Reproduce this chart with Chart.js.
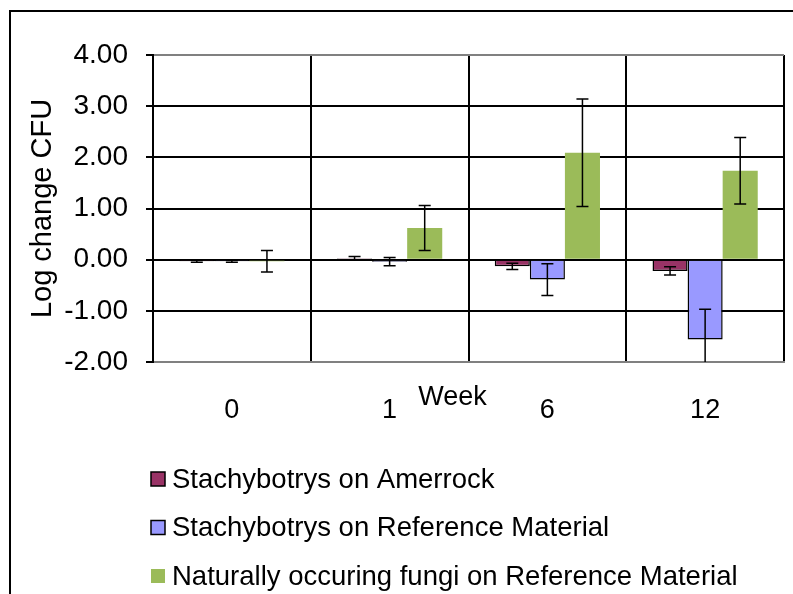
<!DOCTYPE html>
<html>
<head>
<meta charset="utf-8">
<script src="https://cdn.jsdelivr.net/npm/chart.js@4.4.1/dist/chart.umd.min.js"></script>
<style>
  body { margin: 0; background: #fff; }
  #wrap { position: relative; width: 793px; height: 594px; overflow: hidden; }
  #frame { position: absolute; left: 9px; top: 10px; width: 900px; height: 700px;
           border-left: 2px solid #000; border-top: 2px solid #000; }
  canvas { position: absolute; left: 0; top: 0; }
</style>
</head>
<body>
<div id="wrap">
  <div id="frame"></div>
  <canvas id="chart" width="793" height="594"></canvas>
</div>
<script>
const weeks = ["0", "1", "6", "12"];
const seriesNames = [
  "Stachybotrys on Amerrock",
  "Stachybotrys on Reference Material",
  "Naturally occuring fungi on Reference Material"
];
const amerrock = [-0.03, 0.03, -0.13, -0.22];
const amerrockErr = [0.02, 0.03, 0.06, 0.08];
const refMaterial = [-0.03, -0.04, -0.39, -1.56];
const refMaterialErr = [0.02, 0.08, 0.31, 0.59];
const natural = [-0.03, 0.62, 2.09, 1.74];
const naturalErr = [0.21, 0.44, 1.05, 0.65];
const yTicks = [-2, -1, 0, 1, 2, 3, 4];

const FONT = "'Liberation Sans', Arial, sans-serif";

// error bars drawn from each bar's x and the y scale
const errorBars = {
  id: "errorBars",
  afterDatasetsDraw(chart) {
    const ctx = chart.ctx;
    const y = chart.scales.y;
    const area = chart.chartArea;
    ctx.save();
    ctx.beginPath();
    ctx.rect(area.left, area.top, area.right - area.left, area.bottom - area.top);
    ctx.clip();
    ctx.strokeStyle = "#000";
    ctx.lineWidth = 1.5;
    chart.data.datasets.forEach((ds, di) => {
      const meta = chart.getDatasetMeta(di);
      ds.data.forEach((v, i) => {
        const bx = meta.data[i].x;
        const top = y.getPixelForValue(v + ds.errors[i]);
        const bot = y.getPixelForValue(v - ds.errors[i]);
        ctx.beginPath();
        ctx.moveTo(bx, top); ctx.lineTo(bx, bot);
        ctx.moveTo(bx - 6, top); ctx.lineTo(bx + 6, top);
        ctx.moveTo(bx - 6, bot); ctx.lineTo(bx + 6, bot);
        ctx.stroke();
      });
    });
    ctx.restore();
  }
};

// "Week" label and stacked legend under the plot
const extras = {
  id: "extras",
  afterDraw(chart) {
    const ctx = chart.ctx;
    const area = chart.chartArea;
    ctx.save();
    ctx.fillStyle = "#000";
    ctx.font = "27px " + FONT;
    ctx.textAlign = "center";
    ctx.textBaseline = "middle";
    ctx.fillText("Week", (area.left + area.right) / 2 - 16, 398);

    ctx.font = "27.5px " + FONT;
    ctx.textAlign = "left";
    chart.data.datasets.forEach((ds, i) => {
      const cy = 479 + i * 48.5;
      ctx.fillStyle = ds.backgroundColor;
      ctx.fillRect(151, cy - 7, 14, 14);
      if (ds.borderWidth) {
        ctx.strokeStyle = "#000";
        ctx.lineWidth = 1.5;
        ctx.strokeRect(151, cy - 7, 14, 14);
      }
      ctx.fillStyle = "#000";
      ctx.fillText(ds.label, 172, cy + 1);
    });
    ctx.restore();
  }
};

new Chart(document.getElementById("chart"), {
  type: "bar",
  data: {
    labels: weeks,
    datasets: [
      { label: seriesNames[0], data: amerrock, errors: amerrockErr,
        backgroundColor: "#993366", borderColor: "#000", borderWidth: 1.5 },
      { label: seriesNames[1], data: refMaterial, errors: refMaterialErr,
        backgroundColor: "#9999FF", borderColor: "#000", borderWidth: 1.5 },
      { label: seriesNames[2], data: natural, errors: naturalErr,
        backgroundColor: "#9BBB59", borderWidth: 0 }
    ]
  },
  options: {
    responsive: false,
    animation: false,
    events: [],
    layout: { padding: { left: 26, top: 55, right: 9, bottom: 172 } },
    datasets: { bar: { categoryPercentage: 0.667, barPercentage: 1.0 } },
    plugins: {
      legend: { display: false },
      tooltip: { enabled: false }
    },
    scales: {
      x: {
        grid: {
          offset: true,
          drawTicks: false,
          color: ctx => ctx.index === weeks.length ? "#808080" : "#000",
          lineWidth: 2
        },
        border: { color: "#808080", width: 2 },
        ticks: { color: "#000", font: { family: FONT, size: 27 }, padding: 32 },
        afterFit: s => { s.height = 60; }
      },
      y: {
        min: -2, max: 4,
        afterBuildTicks: s => { s.ticks = yTicks.map(v => ({ value: v })); },
        grid: {
          color: ctx => ctx.tick && ctx.tick.value === 4 ? "#808080" : "#000",
          lineWidth: 2,
          tickLength: 7,
          tickColor: "#000"
        },
        border: { color: "#000", width: 2 },
        ticks: {
          color: "#000", font: { family: FONT, size: 28 }, padding: 18,
          callback: v => v.toFixed(2)
        },
        title: {
          display: true, text: "Log change CFU", color: "#000",
          font: { family: FONT, size: 29 }, padding: 0
        },
        afterFit: s => { s.width = 127; }
      }
    }
  },
  plugins: [errorBars, extras]
});
</script>
</body>
</html>
